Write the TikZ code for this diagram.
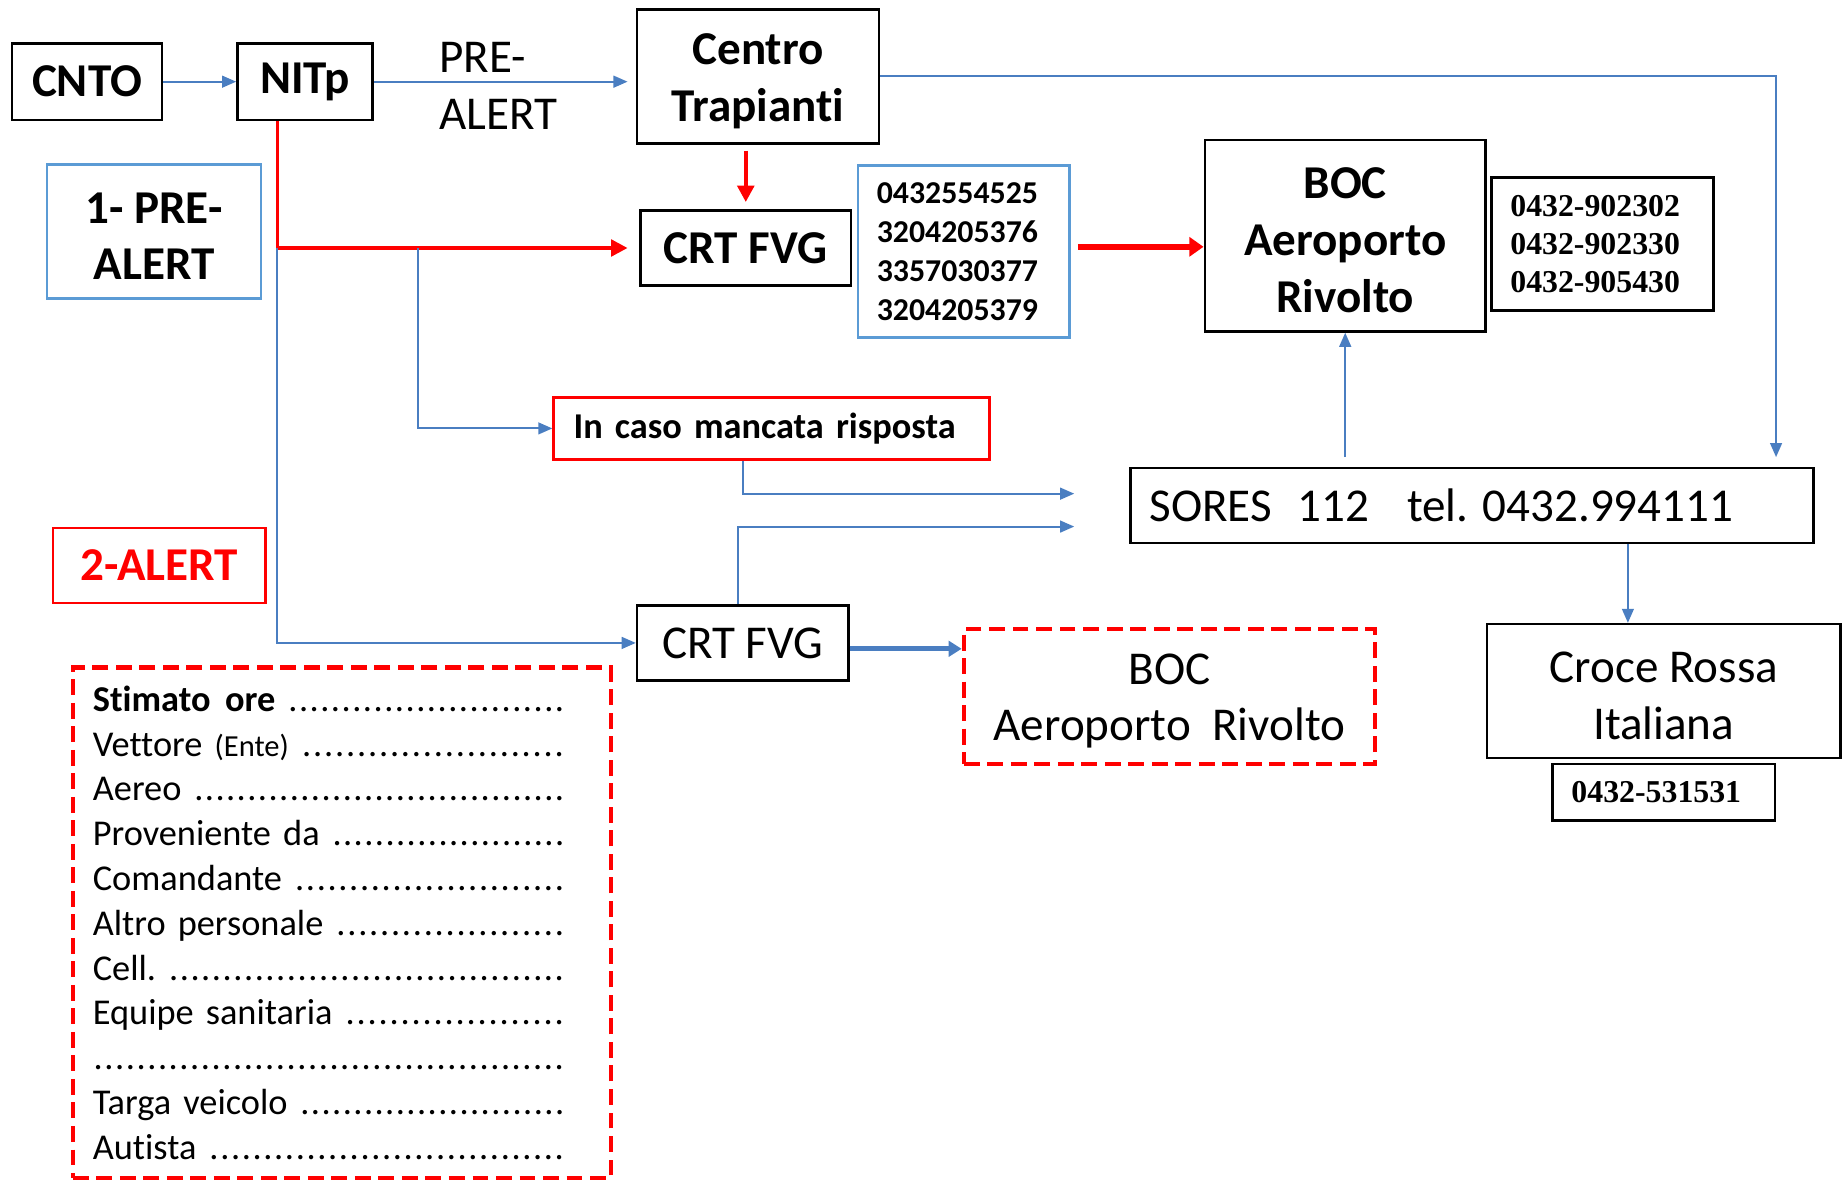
\documentclass[tikz,border=0pt]{standalone}
\usepackage{fontspec}
\setmainfont{Carlito}[Ligatures=NoCommon]
\newfontfamily\tnr{Liberation Serif}
\usetikzlibrary{arrows.meta}

\definecolor{lnblue}{RGB}{74,126,193}
\definecolor{boxblue}{RGB}{91,155,213}
\definecolor{alarmred}{RGB}{255,0,0}

\frenchspacing
\newcommand{\bigtxt}{\fontsize{11.4}{13.7}\selectfont}
\newcommand{\formtxt}{\fontsize{8.8}{10.84}\selectfont}
\newcommand{\numtxt}{\fontsize{7.7}{9.4}\selectfont}
\newcommand{\toprule}{\rule{0pt}{0.85em}}
\newcommand{\dotline}[1]{\leavevmode\hbox to 40.2mm{#1\xleaders\hbox to 0.9mm{\hss.\hss}\hfill}}

\tikzset{
  box/.style={draw=black,line width=0.6pt,inner sep=0pt,align=center,font=\bigtxt},
  bluebox/.style={box,draw=boxblue},
  redbox/.style={box,draw=alarmred},
  dashbox/.style={box,draw=alarmred,line width=1.05pt,dash pattern=on 1.35mm off 0.65mm},
  numbox/.style={align=left,inner xsep=1.6mm},
  link/.style={draw=lnblue,line width=0.5pt,-{Triangle[length=1.2mm,width=1mm]}},
  hotlink/.style={draw=alarmred,line width=0.9pt,-{Triangle[length=1.4mm,width=1.4mm]}}
}

\begin{document}
\begin{tikzpicture}[x=0.1mm,y=-0.1mm]
	\useasboundingbox (0,0) rectangle (1568,1004);
	\node[box,font=\bigtxt\bfseries,minimum width=12.8mm,minimum height=6.5mm] (cnto) at (74,69.5) {CNTO};
	\node[box,font=\bigtxt\bfseries,minimum width=11.5mm,minimum height=6.5mm] (nitp) at (259.5,69.5) {NITp};
	\node[box,font=\bigtxt\bfseries,minimum width=20.6mm,minimum height=11.4mm] (centro) at (645,65) {\toprule Centro\\Trapianti};
	\node[align=left,inner sep=0pt,font=\bigtxt,anchor=west] (prelbl) at (373,73) {PRE-\\ALERT};
	\node[box,font=\bigtxt\bfseries,minimum width=17.9mm,minimum height=6.4mm] (crttop) at (634.5,211) {CRT FVG};
	\node[bluebox,font=\bigtxt\bfseries,minimum width=18.2mm,minimum height=11.4mm] (pre1) at (131,197) {\toprule 1- PRE-\\ALERT};
	\node[bluebox,numbox,font=\numtxt\bfseries,text width=14.8mm,minimum height=14.6mm] (tel1) at (820,214) {0432554525\\3204205376\\3357030377\\3204205379};
	\node[box,font=\bigtxt\bfseries,minimum width=23.9mm,minimum height=16.3mm] (boc) at (1144.5,200.5) {\toprule BOC\\Aeroporto\\Rivolto};
	\node[box,numbox,font=\tnr\fontsize{7.7}{9.25}\selectfont\bfseries,text width=15.7mm,minimum height=11.3mm] (tel2) at (1363.5,207.5) {0432-902302\\0432-902330\\0432-905430};
	\node[redbox,font=\formtxt\bfseries,text width=33.7mm,align=left,inner xsep=1.7mm,minimum height=5.3mm] (mancata) at (656.5,364.5) {\mbox{In caso mancata risposta}};
	\node[box,text width=54.9mm,align=left,inner xsep=1.6mm,minimum height=6.4mm] (sores) at (1252.5,430) {\mbox{SORES\hspace{0.55em}112\hspace{0.8em}tel.\hspace{0.3em}0432.994111}};
	\node[redbox,font=\bigtxt\bfseries,text=alarmred,minimum width=18.1mm,minimum height=6.4mm] (alert2) at (135.5,481) {2-ALERT};
	\node[box,minimum width=18mm,minimum height=6.4mm] (crtbot) at (632,547) {CRT FVG};
	\node[dashbox,minimum width=35mm,minimum height=11.5mm] (bocd) at (995,592.5) {\toprule BOC\\Aeroporto\ \ Rivolto};
	\node[box,minimum width=30.1mm,minimum height=11.4mm] (croce) at (1415.5,588) {\toprule Croce Rossa\\Italiana};
	\node[box,numbox,font=\tnr\fontsize{7.7}{9.25}\selectfont\bfseries,text width=15.7mm,minimum height=4.8mm] (tel3) at (1415.5,674) {0432-531531};
	\node[dashbox,font=\formtxt,text width=42.4mm,align=left,minimum width=45.8mm,minimum height=43.4mm] (form) at (291,785) {%
		\dotline{\textbf{Stimato\hspace{0.4em}ore}\ }\\
		\dotline{Vettore {\fontsize{7.4}{8}\selectfont(Ente)}\ }\\
		\dotline{Aereo\ }\\
		\dotline{Proveniente da\ }\\
		\dotline{Comandante\ }\\
		\dotline{Altro personale\ }\\
		\dotline{Cell.\ }\\
		\dotline{Equipe sanitaria\ }\\
		\dotline{}\\
		\dotline{Targa veicolo\ }\\
		\dotline{Autista\ }};

	\coordinate (nitpout) at ([xshift=-2.35mm]nitp.south);
	\coordinate (branch) at (356,211);
	\coordinate (soresin) at ([xshift=-3.3mm]sores.north east);
	\coordinate (soresinA) at ([xshift=-4.7mm,yshift=1mm]sores.west);
	\coordinate (soresinB) at ([xshift=-4.7mm,yshift=-1.8mm]sores.west);
	\coordinate (croin) at ([xshift=-3.05mm]croce.north);

	\draw[link] (cnto) -- (nitp);
	\draw[link,shorten >=0.7mm] (nitp.east) -- (nitp.east -| centro.west);
	\draw[link,shorten >=0.8mm] (centro.east) -| (soresin);
	\draw[hotlink,line width=1pt,shorten <=0.5mm,shorten >=0.6mm] (centro.south -| crttop.north) -- (crttop.north);
	\draw[hotlink,shorten >=1mm] (nitpout) |- (crttop.west);
	\draw[link] (nitpout |- crttop.west) |- (crtbot.west);
	\draw[link] (branch) |- (mancata.west);
	\draw[link] ([xshift=-2.45mm]mancata.south) |- (soresinA);
	\draw[link] ([xshift=-0.4mm]crtbot.north) |- (soresinB);
	\draw[hotlink,line width=1.5pt,-{Triangle[length=1.2mm,width=1.6mm]},shorten <=0.6mm] ([yshift=0.4mm]tel1.east) -- ([yshift=0.4mm]tel1.east -| boc.west);
	\draw[link,shorten <=0.8mm] (sores.north -| boc.south) -- (boc.south);
	\draw[link] (croin |- sores.south) -- (croin);
	\draw[link,line width=1.2pt,-{Triangle[length=1.1mm,width=1.3mm]}] ([yshift=-0.5mm]crtbot.east) -- ([yshift=-0.5mm]crtbot.east -| bocd.west);
\end{tikzpicture}
\end{document}
